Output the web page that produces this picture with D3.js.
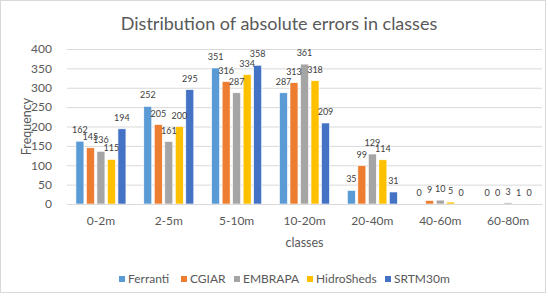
<!DOCTYPE html>
<html>
<head>
	<meta charset="utf-8">
	<title>Distribution of absolute errors in classes</title>
	<script src="https://cdn.jsdelivr.net/npm/d3@7"></script>
	<style>
		body { margin: 0; font-family: Lato, "Open Sans", sans-serif; background: #fff; }
	</style>
</head>
<body>
	<div id="chart"></div>
	<script>

		// data
		const classes = ["0-2m", "2-5m", "5-10m", "10-20m", "20-40m", "40-60m", "60-80m"];
		const seriesNames = ["Ferranti", "CGIAR", "EMBRAPA", "HidroSheds", "SRTM30m"];
		const ferranti   = [162, 252, 351, 287, 35, 0, 0];
		const cgiar      = [145, 205, 316, 313, 99, 9, 0];
		const embrapa    = [136, 161, 287, 361, 129, 10, 3];
		const hidrosheds = [115, 200, 334, 318, 114, 5, 1];
		const srtm30m    = [194, 295, 358, 209, 31, 0, 0];
		const yTicks = [0, 50, 100, 150, 200, 250, 300, 350, 400];
		const colors = ["#5B9BD5", "#ED7D31", "#A5A5A5", "#FFC000", "#4472C4"];

		const values = [ferranti, cgiar, embrapa, hidrosheds, srtm30m];

		const width = 548, height = 296;
		const marginLeft = 67, marginRight = 6, marginTop = 49, marginBottom = 92;
		const textColor = "#595959";
		const font = "Lato, sans-serif";

		const svg = d3.select("#chart").append("svg")
			.attr("width", width)
			.attr("height", height)
			.style("font-family", font);

		// chart frame
		svg.append("rect")
			.attr("x", 0.5).attr("y", 0.5)
			.attr("width", width - 3).attr("height", height - 4)
			.attr("fill", "#fff")
			.attr("stroke", "#d9d9d9");

		const x = d3.scaleBand()
			.domain(classes)
			.range([marginLeft, width - marginRight])
			.paddingInner(0.263)
			.paddingOuter(0.1315);

		const xs = d3.scaleBand()
			.domain(seriesNames)
			.range([0, x.bandwidth()])
			.paddingInner(0.24);

		const y = d3.scaleLinear()
			.domain([0, 400])
			.range([height - marginBottom, marginTop]);

		// title
		svg.append("text")
			.attr("x", 279).attr("y", 30)
			.attr("text-anchor", "middle")
			.attr("font-size", 18)
			.attr("fill", textColor)
			.text("Distribution of absolute errors in classes");

		// grid + y axis
		svg.append("g")
			.attr("transform", `translate(${marginLeft},0)`)
			.call(d3.axisLeft(y).tickValues(yTicks).tickSize(0).tickPadding(15))
			.call(g => g.select(".domain").remove())
			.call(g => g.selectAll(".tick text")
				.attr("font-size", 12)
				.attr("font-family", font)
				.attr("fill", textColor))
			.call(g => g.selectAll(".tick line").clone()
				.attr("x2", width - marginLeft - marginRight)
				.attr("stroke", "#d9d9d9"));

		svg.append("text")
			.attr("transform", `translate(31,${(marginTop + height - marginBottom) / 2}) rotate(-90)`)
			.attr("text-anchor", "middle")
			.attr("font-size", 12.5)
			.attr("fill", textColor)
			.text("Frequency");

		// bars
		const groups = svg.append("g").selectAll("g")
			.data(classes)
			.join("g")
			.attr("transform", d => `translate(${x(d)},0)`);

		groups.selectAll("rect")
			.data((c, i) => seriesNames.map((s, k) => ({ s, k, v: values[k][i] })))
			.join("rect")
			.attr("x", d => xs(d.s))
			.attr("y", d => y(d.v))
			.attr("width", xs.bandwidth())
			.attr("height", d => y(0) - y(d.v))
			.attr("fill", d => colors[d.k])
			.attr("stroke", "#fff")
			.attr("stroke-width", 0.6);

		groups.selectAll("text")
			.data((c, i) => seriesNames.map((s, k) => ({ s, k, v: values[k][i] })))
			.join("text")
			.attr("x", d => xs(d.s) + xs.bandwidth() / 2)
			.attr("y", d => y(d.v) - 8)
			.attr("text-anchor", "middle")
			.attr("font-size", 9)
			.attr("fill", "#404040")
			.text(d => d.v);

		// x axis
		svg.append("g")
			.attr("transform", `translate(0,${y(0)})`)
			.call(d3.axisBottom(x).tickSize(0).tickPadding(12))
			.call(g => g.select(".domain").attr("stroke", "#d9d9d9"))
			.call(g => g.selectAll(".tick text")
				.attr("font-size", 12)
				.attr("font-family", font)
				.attr("fill", textColor));

		svg.append("text")
			.attr("x", (marginLeft + width - marginRight) / 2)
			.attr("y", 247)
			.attr("text-anchor", "middle")
			.attr("font-size", 12.5)
			.attr("fill", textColor)
			.text("classes");

		// legend
		const legendX = [119, 181, 234, 307, 385];
		const legend = svg.append("g").selectAll("g")
			.data(seriesNames)
			.join("g")
			.attr("transform", (d, i) => `translate(${legendX[i]},279)`);
		legend.append("rect")
			.attr("x", 0).attr("y", -3)
			.attr("width", 6).attr("height", 6)
			.attr("fill", (d, i) => colors[i]);
		legend.append("text")
			.attr("x", 9).attr("y", 4)
			.attr("font-size", 12)
			.attr("fill", textColor)
			.text(d => d);

	</script>
</body>
</html>
